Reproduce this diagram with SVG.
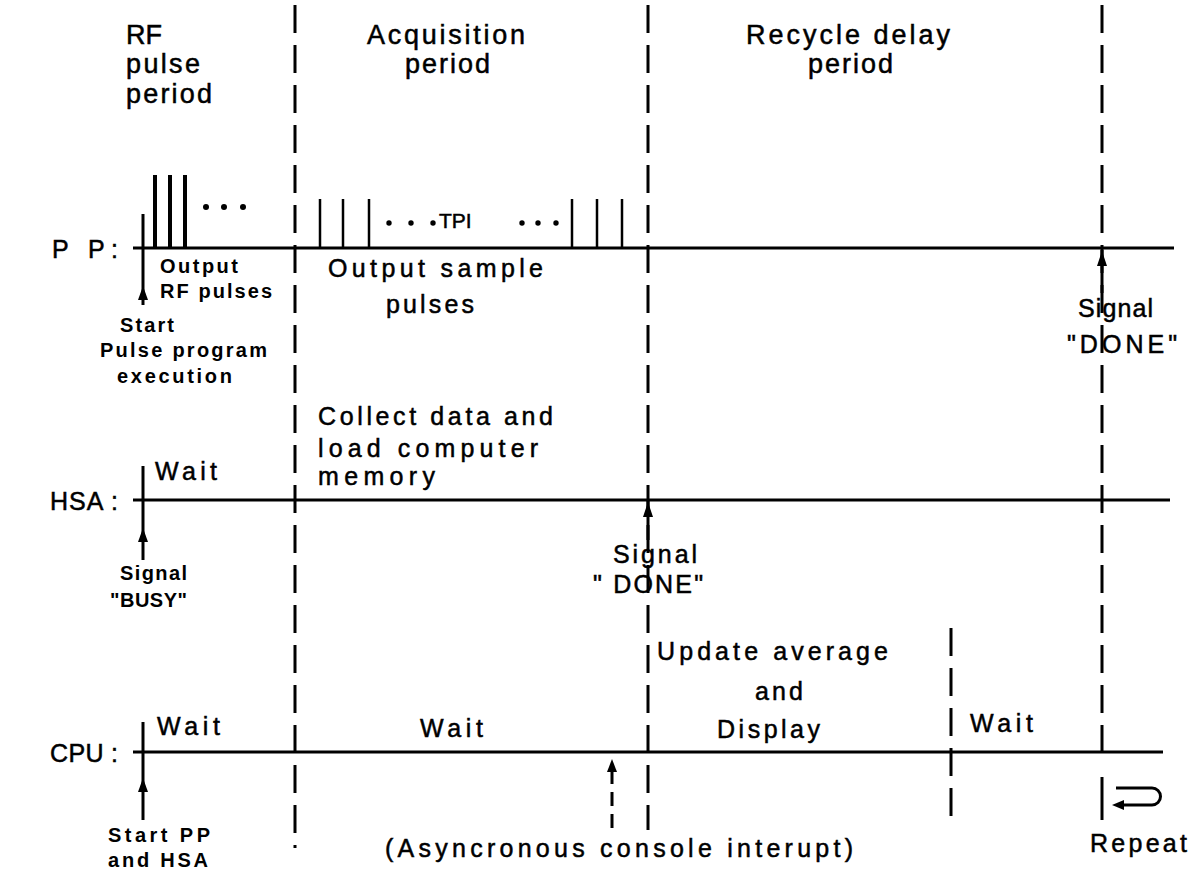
<svg xmlns="http://www.w3.org/2000/svg" width="1198" height="873" viewBox="0 0 1198 873">
<style>
.h{font-family:"Liberation Sans",Arial,sans-serif;font-size:27px;fill:#000;stroke:#000;stroke-width:0.5}
.t{font-family:"Liberation Sans",Arial,sans-serif;font-size:25px;fill:#000;stroke:#000;stroke-width:0.5}
.s{font-family:"Liberation Sans",Arial,sans-serif;font-size:20px;font-weight:bold;fill:#000}
.ln{stroke:#000;stroke-width:3;fill:none}
.dash{stroke:#000;stroke-width:3;fill:none;stroke-dasharray:28 12}
.thick{stroke:#000;stroke-width:4;fill:none}
.thin{stroke:#000;stroke-width:2.5;fill:none}
</style>
<rect width="1198" height="873" fill="#fff"/>

<g id="headers">
<text class="h" x="126" y="44" textLength="36">RF</text>
<text class="h" x="126" y="73" textLength="74">pulse</text>
<text class="h" x="126" y="103" textLength="86">period</text>
<text class="h" x="367" y="44" textLength="158">Acquisition</text>
<text class="h" x="405" y="73" textLength="85">period</text>
<text class="h" x="746" y="44" textLength="204">Recycle delay</text>
<text class="h" x="808" y="73" textLength="85">period</text>
</g>

<g id="connectors">
<line class="ln" x1="133" y1="248" x2="1174" y2="248"/>
<line class="ln" x1="133" y1="500" x2="1170" y2="500"/>
<line class="ln" x1="133" y1="752" x2="1163" y2="752"/>
<line class="dash" x1="295" y1="5" x2="295" y2="848"/>
<line class="dash" x1="648" y1="5" x2="648" y2="830"/>
<line class="dash" x1="1102" y1="5" x2="1102" y2="760"/>
<line class="dash" x1="951" y1="628" x2="951" y2="825"/>
<line class="ln" x1="143" y1="466" x2="143" y2="560"/>
<line class="ln" x1="143" y1="722" x2="143" y2="820"/>
<line class="ln" x1="143" y1="214" x2="143" y2="305"/>
<path d="M143,286 l-5,14 h10 z" fill="#000"/>
<path d="M143,528 l-5,14 h10 z" fill="#000"/>
<path d="M143,778 l-5,14 h10 z" fill="#000"/>
<line class="ln" x1="1102" y1="250" x2="1102" y2="293"/>
<path d="M1102,251 l-5,15 h10 z" fill="#000"/>
<line class="ln" x1="648" y1="500" x2="648" y2="540"/>
<path d="M648,502 l-5,15 h10 z" fill="#000"/>
<line class="ln" x1="612" y1="770" x2="612" y2="835" stroke-dasharray="14 8"/>
<path d="M612,759 l-5,13 h10 z" fill="#000"/>
<line class="ln" x1="1102" y1="777" x2="1102" y2="820"/>
<path d="M1116,788 H1152 A8.5,8.5 0 0 1 1152,805 H1122" class="ln"/>
<path d="M1112,805 l12,-5 v10 z" fill="#000"/>
</g>

<g id="pp">
<text class="t" x="52" y="258" textLength="66">P P:</text>
<line class="thick" x1="155" y1="175" x2="155" y2="248"/>
<line class="thick" x1="170" y1="175" x2="170" y2="248"/>
<line class="thick" x1="185" y1="175" x2="185" y2="248"/>
<circle cx="206" cy="207" r="3"/>
<circle cx="224" cy="207" r="3"/>
<circle cx="243" cy="207" r="3"/>
<line class="thin" x1="320" y1="199" x2="320" y2="248"/>
<line class="thin" x1="343" y1="199" x2="343" y2="248"/>
<line class="thin" x1="369" y1="199" x2="369" y2="248"/>
<circle cx="389" cy="223" r="2.7"/>
<circle cx="411" cy="223" r="2.7"/>
<circle cx="433" cy="223" r="2.7"/>
<text class="t" x="439" y="228" style="font-size:21px">TPI</text>
<circle cx="522" cy="223" r="2.7"/>
<circle cx="538" cy="223" r="2.7"/>
<circle cx="556" cy="223" r="2.7"/>
<line class="thin" x1="572" y1="199" x2="572" y2="248"/>
<line class="thin" x1="597" y1="199" x2="597" y2="248"/>
<line class="thin" x1="622" y1="199" x2="622" y2="248"/>
<text class="s" x="160" y="273" textLength="78">Output</text>
<text class="s" x="160" y="298" textLength="112">RF pulses</text>
<text class="s" x="120" y="332" textLength="54">Start</text>
<text class="s" x="100" y="357" textLength="167">Pulse program</text>
<text class="s" x="117" y="383" textLength="115">execution</text>
<text class="t" x="328" y="277" textLength="215">Output  sample</text>
<text class="t" x="386" y="313" textLength="88">pulses</text>
<text class="t" x="1078" y="317" textLength="75">Signal</text>
<text class="t" x="1067" y="353" textLength="110">"DONE"</text>
</g>

<g id="hsa">
<text class="t" x="50" y="510" textLength="68">HSA :</text>
<text class="t" x="155" y="480" textLength="62">Wait</text>
<text class="t" x="318" y="425" textLength="235">Collect data and</text>
<text class="t" x="318" y="457" textLength="220">load computer</text>
<text class="t" x="318" y="485" textLength="117">memory</text>
<text class="s" x="120" y="580" textLength="67">Signal</text>
<text class="s" x="110" y="607" textLength="77">"BUSY"</text>
<text class="t" x="613" y="563" textLength="84">Signal</text>
<text class="t" x="593" y="593" textLength="110">" DONE"</text>
</g>

<g id="cpu">
<text class="t" x="50" y="762" textLength="68">CPU :</text>
<text class="t" x="157" y="735" textLength="63">Wait</text>
<text class="t" x="420" y="737" textLength="63">Wait</text>
<text class="t" x="657" y="660" textLength="231">Update average</text>
<text class="t" x="755" y="700" textLength="48">and</text>
<text class="t" x="717" y="738" textLength="103">Display</text>
<text class="t" x="970" y="732" textLength="63">Wait</text>
<text class="s" x="108" y="842" textLength="102">Start PP</text>
<text class="s" x="108" y="867" textLength="100">and HSA</text>
<text class="t" x="385" y="857" textLength="468">(Asyncronous  console interupt)</text>
<text class="t" x="1090" y="852" textLength="97">Repeat</text>
</g>
</svg>
